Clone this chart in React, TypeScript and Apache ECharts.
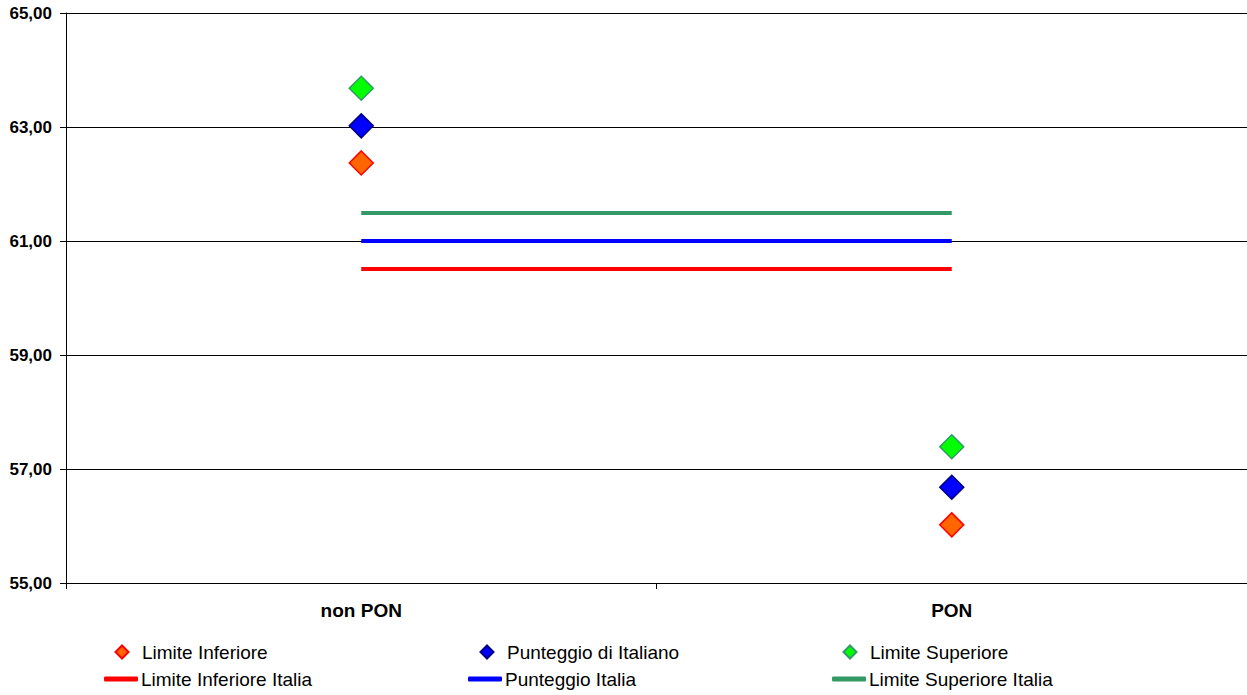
import React, { useEffect, useRef } from "react";
import * as echarts from "echarts";

const categories = ["non PON", "PON"];
const yTicks = [55, 57, 59, 61, 63, 65];
const limiteInferiore = [62.37, 56.02];
const punteggioItaliano = [63.02, 56.68];
const limiteSuperiore = [63.68, 57.39];
const limiteInferioreItalia = [60.51, 60.51];
const punteggioItalia = [61.0, 61.0];
const limiteSuperioreItalia = [61.49, 61.49];

const FONT = "Arial, 'Liberation Sans', sans-serif";

export default function App() {
  const ref = useRef<HTMLDivElement>(null);
  useEffect(() => {
    if (!ref.current) return;
    const chart = echarts.init(ref.current, null, { renderer: "svg" });
    const legendText = (pad: number) => ({
      fontFamily: FONT,
      fontSize: 19,
      color: "#000",
      lineHeight: 22,
      padding: [0, 0, 0, pad],
    });
    const diamondLegend = (name: string, left: number, top: number) => ({
      data: [name],
      left,
      top,
      padding: 0,
      itemWidth: 13,
      itemHeight: 13,
      textStyle: legendText(8.5),
      selectedMode: false,
    });
    const lineLegend = (name: string, left: number, top: number, color: string) => ({
      data: [{ name, icon: "roundRect", itemStyle: { color } }],
      left,
      top,
      padding: 0,
      itemWidth: 34,
      itemHeight: 5,
      textStyle: legendText(-2),
      selectedMode: false,
    });
    chart.setOption({
      animation: false,
      backgroundColor: "#fff",
      grid: { left: 66, right: 0, top: 13, bottom: 112, containLabel: false },
      xAxis: {
        type: "category",
        data: categories,
        boundaryGap: true,
        axisLine: { lineStyle: { color: "#000", width: 1 } },
        axisTick: { show: true, length: 6, alignWithLabel: false, lineStyle: { color: "#000" } },
        axisLabel: { fontFamily: FONT, fontSize: 19, fontWeight: "bold", color: "#000", margin: 18 },
        splitLine: { show: false },
      },
      yAxis: {
        type: "value",
        min: yTicks[0],
        max: yTicks[yTicks.length - 1],
        interval: 2,
        axisLine: { show: true, lineStyle: { color: "#000", width: 1 } },
        axisTick: { show: true, length: 6, lineStyle: { color: "#000" } },
        axisLabel: {
          fontFamily: FONT,
          fontSize: 17,
          fontWeight: "bold",
          color: "#000",
          margin: 14,
          formatter: (v: number) => v.toFixed(2).replace(".", ","),
        },
        splitLine: { show: true, lineStyle: { color: "#000", width: 1 } },
      },
      legend: [
        diamondLegend("Limite Inferiore", 114.5, 641),
        diamondLegend("Punteggio di Italiano", 479.5, 641),
        diamondLegend("Limite Superiore", 842.5, 641),
        lineLegend("Limite Inferiore Italia", 104, 668, "#ff0000"),
        lineLegend("Punteggio Italia", 468, 668, "#0000ff"),
        lineLegend("Limite Superiore Italia", 832, 668, "#339966"),
      ],
      series: [
        {
          name: "Limite Inferiore Italia",
          type: "line",
          data: limiteInferioreItalia,
          symbol: "none",
          lineStyle: { color: "#ff0000", width: 4 },
          itemStyle: { color: "#ff0000" },
        },
        {
          name: "Punteggio Italia",
          type: "line",
          data: punteggioItalia,
          symbol: "none",
          lineStyle: { color: "#0000ff", width: 4 },
          itemStyle: { color: "#0000ff" },
        },
        {
          name: "Limite Superiore Italia",
          type: "line",
          data: limiteSuperioreItalia,
          symbol: "none",
          lineStyle: { color: "#339966", width: 4 },
          itemStyle: { color: "#339966" },
        },
        {
          name: "Limite Inferiore",
          type: "scatter",
          data: limiteInferiore,
          symbol: "diamond",
          symbolSize: 24,
          itemStyle: { color: "#ff6600", borderColor: "#ff0000", borderWidth: 1.5, opacity: 1 },
        },
        {
          name: "Punteggio di Italiano",
          type: "scatter",
          data: punteggioItaliano,
          symbol: "diamond",
          symbolSize: 24,
          itemStyle: { color: "#0000ff", borderColor: "#000080", borderWidth: 1.5, opacity: 1 },
        },
        {
          name: "Limite Superiore",
          type: "scatter",
          data: limiteSuperiore,
          symbol: "diamond",
          symbolSize: 24,
          itemStyle: { color: "#00ff00", borderColor: "#339966", borderWidth: 1.5, opacity: 1 },
        },
      ],
    });
    return () => chart.dispose();
  }, []);
  return (
    <div
      ref={ref}
      style={{ position: "fixed", left: 0, top: 0, width: 1247, height: 695, background: "#fff" }}
    />
  );
}
